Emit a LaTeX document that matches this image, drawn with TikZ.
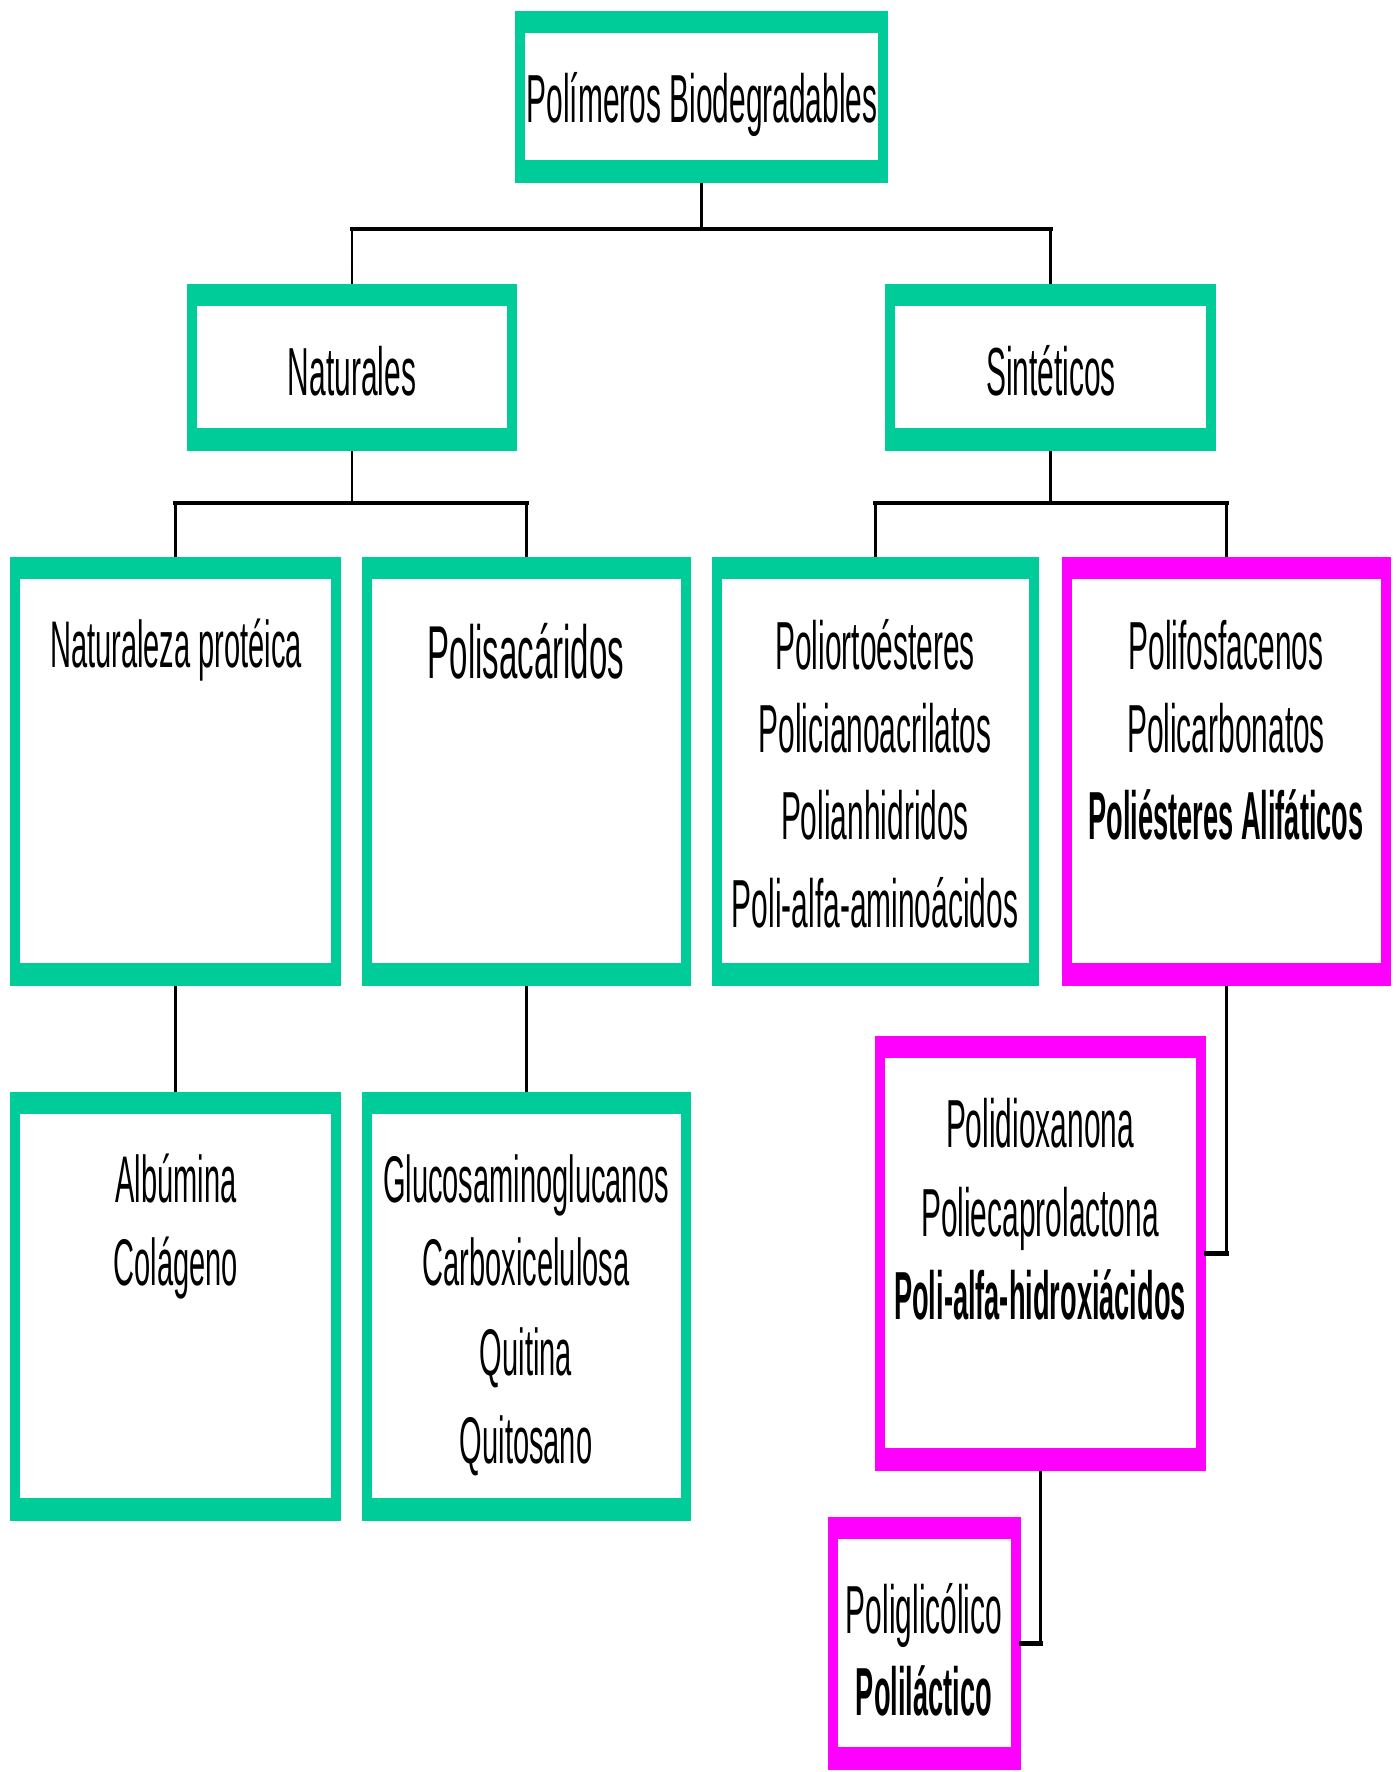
\documentclass[tikz,border=0pt]{standalone}
\usepackage{fontspec}
\setmainfont{Liberation Sans}[FakeStretch=0.44, BoldFeatures={FakeStretch=0.40}]
\usetikzlibrary{fit,calc}
\definecolor{grn}{RGB}{0,204,153}
\definecolor{mag}{RGB}{255,0,255}
\tikzset{
  gbox/.style={inner sep=0pt, fill=grn},
  mbox/.style={inner sep=0pt, fill=mag},
  lbl/.style={anchor=base, inner sep=0pt, font=\fontsize{34}{34}\selectfont},
  lblbig/.style={anchor=base, inner sep=0pt, font=\fontsize{37.5}{37.5}\selectfont},
  lblsm/.style={anchor=base, inner sep=0pt, font=\fontsize{33}{33}\selectfont},
  lblbold/.style={anchor=base, inner sep=0pt, font=\fontsize{34}{34}\selectfont\bfseries},
  vl/.style={line width=1.1pt, black},
  hl/.style={line width=2.2pt, black, line cap=rect},
}
\begin{document}
\begin{tikzpicture}[x=0.5pt, y=-0.5pt]
\useasboundingbox (0,0) rectangle (1396,1772);
% boxes
\node[gbox, fit={(515,11) (888,183)}] (top) {};
\node[gbox, fit={(187,284) (517,451)}] (nat) {};
\node[gbox, fit={(885,284) (1216,451)}] (sint) {};
\node[gbox, fit={(10,557) (341,986)}] (A) {};
\node[gbox, fit={(362,557) (691,986)}] (B) {};
\node[gbox, fit={(712,557) (1039,986)}] (C) {};
\node[mbox, fit={(1062,557) (1391,986)}] (D) {};
\node[gbox, fit={(10,1092) (341,1521)}] (E) {};
\node[gbox, fit={(362,1092) (691,1521)}] (F) {};
\node[mbox, fit={(875,1036) (1206,1471)}] (G) {};
\node[mbox, fit={(828,1517) (1021,1770)}] (H) {};
\foreach \n in {top,nat,sint,A,B,C,D,E,F,G,H}
  \fill[white] ($(\n.north west)+(10,22)$) rectangle ($(\n.south east)+(-10,-23)$);
% labels
\node[lbl] (t0) at (702,122) {Polímeros Biodegradables};
\node[lbl] (t1) at (352,395) {Naturales};
\node[lbl] (t2) at (1051,395) {Sintéticos};
\node[lblsm] (a1) at (176,667) {Naturaleza protéica};
\node[lblbig] (b1) at (526,678) {Polisacáridos};
\node[lbl] (c1) at (875,669) {Poliortoésteres};
\node[lbl] (c2) at (875,752) {Policianoacrilatos};
\node[lbl] (c3) at (875,839) {Polianhidridos};
\node[lbl] (c4) at (875,927) {Poli-alfa-aminoácidos};
\node[lbl] (d1) at (1226,669) {Polifosfacenos};
\node[lbl] (d2) at (1226,752) {Policarbonatos};
\node[lblbold] (d3) at (1226,839) {Poliésteres Alifáticos};
\node[lblsm] (e1) at (176,1202) {Albúmina};
\node[lblsm] (e2) at (176,1285) {Colágeno};
\node[lblsm] (f1) at (526,1202) {Glucosaminoglucanos};
\node[lblsm] (f2) at (526,1285) {Carboxicelulosa};
\node[lblsm] (f3) at (526,1375) {Quitina};
\node[lblsm] (f4) at (526,1463) {Quitosano};
\node[lbl] (g1) at (1040,1147) {Polidioxanona};
\node[lbl] (g2) at (1040,1236) {Poliecaprolactona};
\node[lblbold] (g3) at (1040,1319) {Poli-alfa-hidroxiácidos};
\node[lbl] (h1) at (924,1633) {Poliglicólico};
\node[lblbold] (h2) at (924,1715) {Poliláctico};
% connector rails
\coordinate (r1) at (0,229);
\coordinate (r2) at (0,503);
% top -> nat, sint
\draw[vl] (top.south) -- (top.south |- r1);
\draw[hl] (nat.north |- r1) -- (sint.north |- r1);
\draw[vl] (nat.north |- r1) -- (nat.north);
\draw[vl] (sint.north |- r1) -- (sint.north);
% nat -> A, B
\draw[vl] (nat.south) -- (nat.south |- r2);
\draw[hl] (A.north |- r2) -- (B.north |- r2);
\draw[vl] (A.north |- r2) -- (A.north);
\draw[vl] (B.north |- r2) -- (B.north);
% sint -> C, D
\draw[vl] (sint.south) -- (sint.south |- r2);
\draw[hl] (C.north |- r2) -- (D.north |- r2);
\draw[vl] (C.north |- r2) -- (C.north);
\draw[vl] (D.north |- r2) -- (D.north);
% A -> E, B -> F
\draw[vl] (A.south) -- (E.north);
\draw[vl] (B.south) -- (F.north);
% D -> G
\draw[vl] (D.south) -- (D.south |- G.east);
\draw[hl] (D.south |- G.east) -- (G.east);
% G -> H
\draw[vl] (G.south) -- (G.south |- H.east);
\draw[hl] (G.south |- H.east) -- (H.east);
\end{tikzpicture}
\end{document}
